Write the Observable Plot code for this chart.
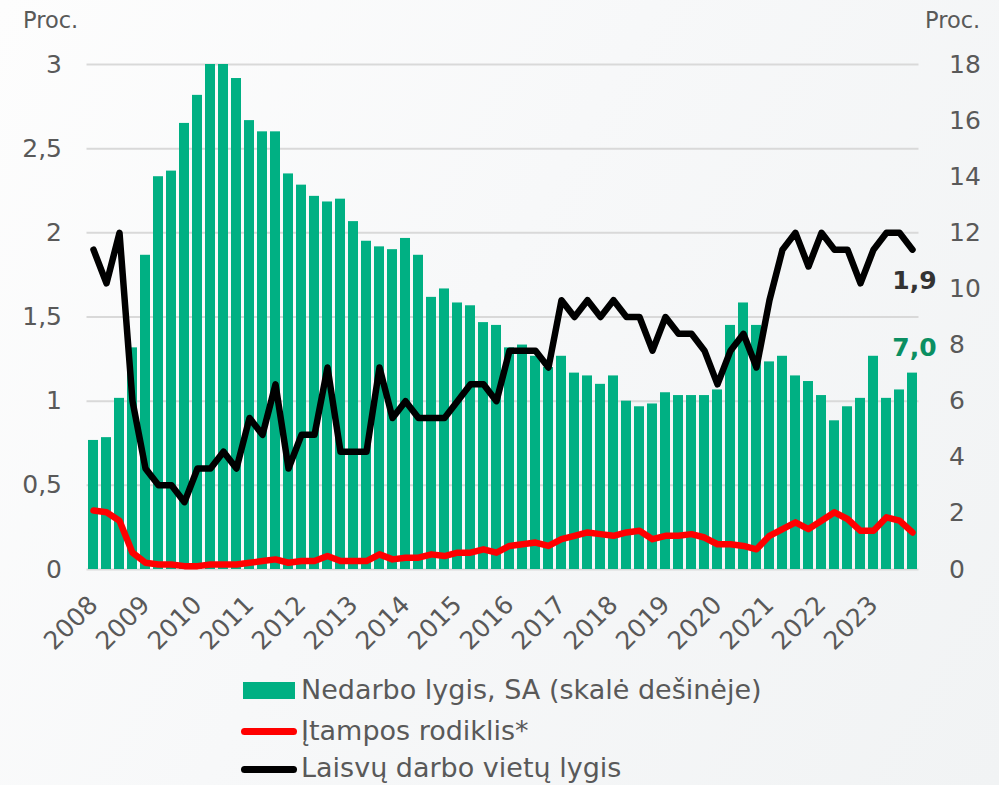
<!DOCTYPE html>
<html>
<head>
<meta charset="utf-8">
<script src="https://cdn.jsdelivr.net/npm/d3@7"></script>
<script src="https://cdn.jsdelivr.net/npm/@observablehq/plot@0.6"></script>
<style>
  html, body { margin: 0; padding: 0; }
  body { width: 999px; height: 785px; overflow: hidden;
         background: linear-gradient(120deg, #fdfdfd 0%, #f7f8f9 45%, #f1f3f4 100%);
         font-family: "DejaVu Sans", Verdana, sans-serif; color: #595959; }
  #wrap { position: absolute; left: 0; top: 0; width: 999px; height: 785px; }
  #chart { position: absolute; left: 0; top: 0; }
  .abs { position: absolute; white-space: nowrap; }
  .leg { font-size: 27px; line-height: 30px; }
</style>
</head>
<body>
<div id="wrap">
  <div id="chart"></div>
  <div class="abs" style="left:23px; top:6px; font-size:22.5px; line-height:28px;">Proc.</div>
  <div class="abs" style="left:925px; top:6px; font-size:22.5px; line-height:28px;">Proc.</div>

  <div class="abs" style="left:243px; top:682px; width:52px; height:17px; background:#00B083;"></div>
  <div class="abs leg" style="left:301px; top:675px;">Nedarbo lygis, SA (skalė dešinėje)</div>

  <div class="abs" style="left:241px; top:728px; width:56px; height:7px; border-radius:4px; background:#ff0000;"></div>
  <div class="abs leg" style="left:301px; top:716px;">Įtampos rodiklis*</div>

  <div class="abs" style="left:241px; top:766px; width:56px; height:7px; border-radius:4px; background:#000000;"></div>
  <div class="abs leg" style="left:301px; top:753px;">Laisvų darbo vietų lygis</div>
</div>
<script>
// Years shown on the axis (quarterly data, 2008 Q1 – 2023 Q4)
const years = [2008, 2009, 2010, 2011, 2012, 2013, 2014, 2015, 2016, 2017, 2018, 2019, 2020, 2021, 2022, 2023];
const quarters = years.flatMap(y => [1, 2, 3, 4].map(q => `${y} K${q}`));

// Nedarbo lygis, SA (right axis, %)
const unemployment = [
  4.6, 4.7, 6.1, 7.9, 11.2, 14.0, 14.2, 15.9,
  16.9, 18.0, 18.0, 17.5, 16.0, 15.6, 15.6, 14.1,
  13.7, 13.3, 13.1, 13.2, 12.4, 11.7, 11.5, 11.4,
  11.8, 11.2, 9.7, 10.0, 9.5, 9.4, 8.8, 8.7,
  7.9, 8.0, 7.6, 7.2, 7.6, 7.0, 6.9, 6.6,
  6.9, 6.0, 5.8, 5.9, 6.3, 6.2, 6.2, 6.2,
  6.4, 8.7, 9.5, 8.7, 7.4, 7.6, 6.9, 6.7,
  6.2, 5.3, 5.8, 6.1, 7.6, 6.1, 6.4, 7.0
];

// Laisvų darbo vietų lygis (left axis, %)
const vacancy = [
  1.9, 1.7, 2.0, 1.0, 0.6, 0.5, 0.5, 0.4,
  0.6, 0.6, 0.7, 0.6, 0.9, 0.8, 1.1, 0.6,
  0.8, 0.8, 1.2, 0.7, 0.7, 0.7, 1.2, 0.9,
  1.0, 0.9, 0.9, 0.9, 1.0, 1.1, 1.1, 1.0,
  1.3, 1.3, 1.3, 1.2, 1.6, 1.5, 1.6, 1.5,
  1.6, 1.5, 1.5, 1.3, 1.5, 1.4, 1.4, 1.3,
  1.1, 1.3, 1.4, 1.2, 1.6, 1.9, 2.0, 1.8,
  2.0, 1.9, 1.9, 1.7, 1.9, 2.0, 2.0, 1.9
];

// Įtampos rodiklis* (left axis)
const tension = [
  0.35, 0.34, 0.29, 0.10, 0.04, 0.03, 0.03, 0.02,
  0.02, 0.03, 0.03, 0.03, 0.04, 0.05, 0.06, 0.04,
  0.05, 0.05, 0.08, 0.05, 0.05, 0.05, 0.09, 0.06,
  0.07, 0.07, 0.09, 0.08, 0.10, 0.10, 0.12, 0.10,
  0.14, 0.15, 0.16, 0.14, 0.18, 0.20, 0.22, 0.21,
  0.20, 0.22, 0.23, 0.18, 0.20, 0.20, 0.21, 0.19,
  0.15, 0.15, 0.14, 0.12, 0.20, 0.24, 0.28, 0.24,
  0.29, 0.34, 0.30, 0.23, 0.23, 0.31, 0.29, 0.22
];

const leftTicks = [0, 0.5, 1, 1.5, 2, 2.5, 3];
const rightTicks = [0, 2, 4, 6, 8, 10, 12, 14, 16, 18];
const ratio = 6; // right-axis units per left-axis unit

const data = quarters.map((q, i) => ({ i, q, u: unemployment[i], v: vacancy[i], t: tension[i] }));
const last = data[data.length - 1];
const fmt = d => String(d).replace(".", ",");

const plot = Plot.plot({
  width: 999,
  height: 660,
  marginTop: 64,
  marginBottom: 91,
  marginLeft: 86.5,
  marginRight: 80.5,
  style: { background: "transparent", fontFamily: "'DejaVu Sans', Verdana, sans-serif", color: "#595959", overflow: "visible" },
  x: { domain: [-0.5, quarters.length - 0.5], axis: null },
  y: { domain: [0, 3], axis: null },
  marks: [
    Plot.ruleY(leftTicks, { stroke: "#d9d9d9", strokeWidth: 2 }),
    Plot.rectY(data, { x1: d => d.i - 0.5, x2: d => d.i + 0.5, y1: 0, y2: d => d.u / ratio, fill: "#00B083", insetLeft: 1.5, insetRight: 1.5 }),
    Plot.line(data, { x: "i", y: "t", stroke: "#ff0000", strokeWidth: 6.5, strokeLinejoin: "round", strokeLinecap: "round" }),
    Plot.line(data, { x: "i", y: "v", stroke: "#000000", strokeWidth: 6.5, strokeLinejoin: "round", strokeLinecap: "round" }),
    Plot.axisY(leftTicks, { anchor: "left", tickSize: 0, tickPadding: 25, tickFormat: fmt, fontSize: 25, label: null }),
    Plot.axisY(rightTicks.map(v => v / ratio), { anchor: "right", tickSize: 0, tickPadding: 30, tickFormat: d => String(Math.round(d * ratio)), fontSize: 25, label: null }),
    Plot.axisX(years.map((y, k) => k * 4), { anchor: "bottom", tickSize: 0, tickPadding: 31, tickRotate: -45, tickFormat: d => String(years[d / 4]), fontSize: 25, label: null }),
    Plot.text([last], { x: "i", y: "v", text: d => fmt(d.v), dy: 31, dx: 2, fontSize: 25, fontWeight: "bold", fill: "#333333" }),
    Plot.text([last], { x: "i", y: d => d.u / ratio, text: d => fmt(d.u.toFixed(1)), dy: -25, dx: 2, fontSize: 25, fontWeight: "bold", fill: "#0a8f62" })
  ]
});
document.getElementById("chart").appendChild(plot);
</script>
</body>
</html>
